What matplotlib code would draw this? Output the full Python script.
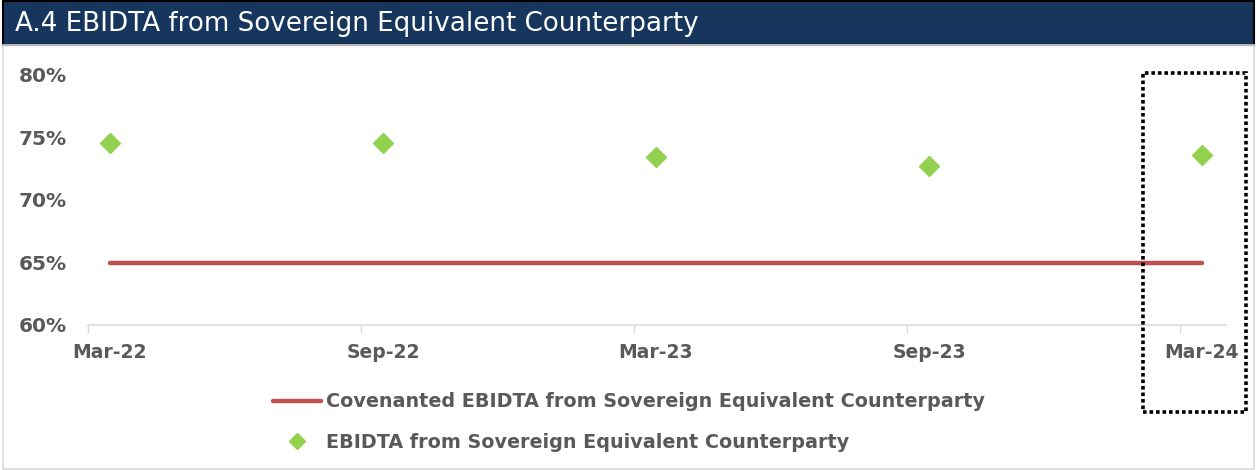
import matplotlib
matplotlib.use('Agg')
import matplotlib.pyplot as plt
from matplotlib.patches import Rectangle
from matplotlib.ticker import FuncFormatter
import numpy as np

plt.rcParams['font.family'] = ['DejaVu Sans']

# data
periods = ['Mar-22', 'Sep-22', 'Mar-23', 'Sep-23', 'Mar-24']
ebidta = [74.6, 74.6, 73.4, 72.7, 73.6]
covenant = [65, 65, 65, 65, 65]
title = 'A.4 EBIDTA from Sovereign Equivalent Counterparty'
lbl_cov = 'Covenanted EBIDTA from Sovereign Equivalent Counterparty'
lbl_ebi = 'EBIDTA from Sovereign Equivalent Counterparty'

W, H = 1257, 470
fig = plt.figure(figsize=(W / 100, H / 100), dpi=100)
gray = '#595959'

# banner
fig.patches.append(Rectangle((0.002, 1 - 45 / H), 0.996, 44 / H, transform=fig.transFigure,
                             facecolor='#17365D', edgecolor='black', lw=1.5))
fig.text(15 / W, 1 - 24 / H, title, color='white', fontsize=18.8, va='center', ha='left')
# light outer border
fig.patches.append(Rectangle((0.002, 0.002), 0.996, 1 - 45 / H - 0.002, transform=fig.transFigure,
                             facecolor='none', edgecolor='#D9D9D9', lw=1.2))

ax = fig.add_axes([88 / W, 1 - 325 / H, (1226 - 88) / W, 250 / H])
x = np.arange(len(periods))
ax.plot(x, covenant, color='#C0504D', lw=3.2, solid_capstyle='round', label=lbl_cov, zorder=2)
ax.plot(x, ebidta, linestyle='none', marker='D', ms=10, color='#92D050', label=lbl_ebi, zorder=3)

off = 22 / 273
ax.set_xlim(-off, len(periods) - 1 + 0.088)
ax.set_ylim(60, 80)
ax.set_yticks([60, 65, 70, 75, 80])
ax.yaxis.set_major_formatter(FuncFormatter(lambda v, p: f'{v:.0f}%'))
ax.set_xticks(x)
ax.set_xticklabels(periods)
ax.set_xticks(x - off, minor=True)
ax.tick_params(axis='x', which='major', length=0, pad=13, labelsize=13.5, labelcolor=gray)
ax.tick_params(axis='x', which='minor', length=6, width=1, color='#D9D9D9', direction='out')
ax.tick_params(axis='y', length=0, pad=15, labelsize=14.5, labelcolor=gray)
for t in ax.get_xticklabels() + ax.get_yticklabels():
    t.set_fontweight('bold')
for s in ['top', 'right', 'left']:
    ax.spines[s].set_visible(False)
ax.spines['bottom'].set_color('#D9D9D9')
ax.spines['bottom'].set_linewidth(1.2)

leg = fig.legend(loc='center', bbox_to_anchor=(629 / W, 1 - 422 / H), frameon=False,
                 fontsize=13.8, handlelength=2.5, handletextpad=0.3, labelspacing=1.1,
                 markerscale=0.8)
for t in leg.get_texts():
    t.set_color(gray)
    t.set_fontweight('bold')

# dotted highlight box
fig.patches.append(Rectangle((1143 / W, 1 - 412 / H), 103 / W, 339 / H, transform=fig.transFigure,
                             facecolor='none', edgecolor='black', lw=2.6,
                             linestyle=(0, (1, 0.8)), capstyle='butt', zorder=5))

fig.savefig('out.png', dpi=100)
